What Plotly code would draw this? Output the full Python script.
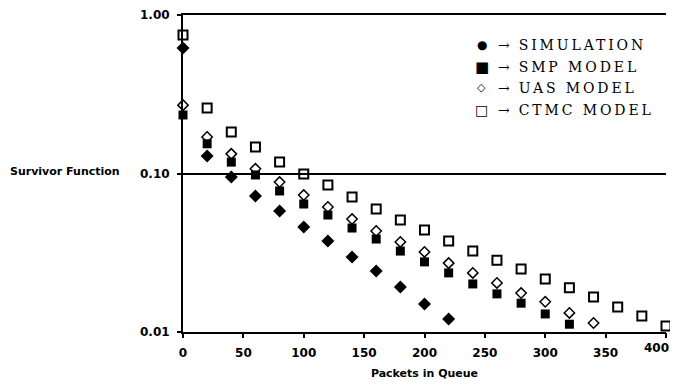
import plotly.graph_objects as go

packets = [0, 20, 40, 60, 80, 100, 120, 140, 160, 180, 200, 220, 240, 260, 280, 300, 320, 340, 360, 380, 400]

simulation = [0.619, 0.129, 0.0951, 0.0721, 0.058, 0.0459, 0.0375, 0.0297, 0.0243, 0.0192, 0.015, 0.0121]
smp_model = [0.234, 0.154, 0.118, 0.0979, 0.0776, 0.0642, 0.0547, 0.0453, 0.0386, 0.0324, 0.0277, 0.0236,
             0.0201, 0.0174, 0.0152, 0.013, 0.0112]
uas_model = [0.27, 0.17, 0.133, 0.107, 0.0883, 0.0731, 0.0615, 0.0516, 0.0434, 0.037, 0.032, 0.0272,
             0.0236, 0.0204, 0.0176, 0.0155, 0.0132, 0.0114]
ctmc_model = [0.748, 0.259, 0.183, 0.147, 0.118, 0.0993, 0.0846, 0.0711, 0.0597, 0.0509, 0.044, 0.0375,
              0.0324, 0.0284, 0.025, 0.0216, 0.019, 0.0166, 0.0144, 0.0126, 0.0109]

x_ticks = [0, 50, 100, 150, 200, 250, 300, 350, 400]
x_tick_labels = ["0", "50", "100", "150", "200", "250", "300", "350", "400"]
y_ticks = [0.01, 0.1, 1.0]
y_tick_labels = ["0.01", "0.10", "1.00"]

legend_symbols = ["\u25CF", "\u25A0", "\u25C7", "\u25A1"]
legend_symbol_sizes = [12, 15, 11, 14]
legend_names = ["SIMULATION", "SMP MODEL", "UAS MODEL", "CTMC MODEL"]

fig = go.Figure()
fig.add_trace(go.Scatter(x=packets[:len(ctmc_model)], y=ctmc_model, mode="markers", name="CTMC MODEL",
                         marker=dict(symbol="square-open", size=9, color="black", line=dict(width=2, color="black")),
                         cliponaxis=False))
fig.add_trace(go.Scatter(x=packets[:len(uas_model)], y=uas_model, mode="markers", name="UAS MODEL",
                         marker=dict(symbol="diamond-open", size=8, color="black", line=dict(width=1.5, color="black")),
                         cliponaxis=False))
fig.add_trace(go.Scatter(x=packets[:len(smp_model)], y=smp_model, mode="markers", name="SMP MODEL",
                         marker=dict(symbol="square", size=9, color="black"),
                         cliponaxis=False))
fig.add_trace(go.Scatter(x=packets[:len(simulation)], y=simulation, mode="markers", name="SIMULATION",
                         marker=dict(symbol="diamond", size=10, color="black"),
                         cliponaxis=False))
# empty helper trace so the overlay axis (carrying the last, right-aligned label) is drawn
fig.add_trace(go.Scatter(x=[], y=[], xaxis="x2", yaxis="y", mode="markers", showlegend=False))

tick_font = dict(family="DejaVu Sans", size=12, color="black", weight="bold")

# the page body adds an 8px offset; figure sized so the plot lands where the reference has it
fig.update_layout(
    width=670, height=372,
    margin=dict(l=175, r=12, t=7, b=48),
    paper_bgcolor="white", plot_bgcolor="white",
    showlegend=False,
    xaxis=dict(range=[0, 400], tickvals=x_ticks, ticktext=x_tick_labels[:-1] + [""],
               showgrid=False, zeroline=False,
               showline=True, mirror=True, linecolor="black", linewidth=2,
               ticks="outside", ticklen=4, tickwidth=2, tickcolor="black",
               ticklabelstandoff=5, automargin=False,
               tickfont=tick_font,
               title=dict(text="Packets in Queue", font=dict(family="DejaVu Sans", size=11, color="black", weight="bold"),
                          standoff=12)),
    xaxis2=dict(range=[0, 400], overlaying="x", anchor="y", side="bottom",
                tickvals=x_ticks[-1:], ticktext=x_tick_labels[-1:],
                ticklabelposition="outside left", ticklabelshift=4,
                showgrid=False, zeroline=False, showline=False,
                ticks="outside", ticklen=4, tickwidth=2, tickcolor="black",
                ticklabelstandoff=5, automargin=False, ticklabeloverflow="allow",
                tickfont=tick_font),
    yaxis=dict(type="log", range=[-2, 0], tickvals=y_ticks, ticktext=y_tick_labels,
               showgrid=True, gridcolor="black", gridwidth=2, zeroline=False,
               showline=True, linecolor="black", linewidth=2,
               ticks="outside", ticklen=4, tickwidth=2, tickcolor="black",
               ticklabelstandoff=5, automargin=False,
               tickfont=tick_font),
)

fig.add_annotation(text="Survivor Function", xref="paper", yref="paper", x=-0.362, y=0.505,
                   xanchor="left", yanchor="middle", showarrow=False,
                   font=dict(family="DejaVu Sans", size=11, color="black", weight="bold"))

legend_y = [0.905, 0.836, 0.770, 0.700]
for sym, ssize, name, ly in zip(legend_symbols, legend_symbol_sizes, legend_names, legend_y):
    fig.add_annotation(text=sym, xref="paper", yref="paper", x=0.619, y=ly,
                       xanchor="center", yanchor="middle", showarrow=False,
                       font=dict(family="DejaVu Serif", size=ssize, color="black"))
    fig.add_annotation(text=f"\u2192  <span style='letter-spacing:2.9px'>{name}</span>",
                       xref="paper", yref="paper", x=0.647, y=ly,
                       xanchor="left", yanchor="middle", showarrow=False,
                       font=dict(family="DejaVu Serif", size=14, color="black"))

fig.write_html("out.html")
